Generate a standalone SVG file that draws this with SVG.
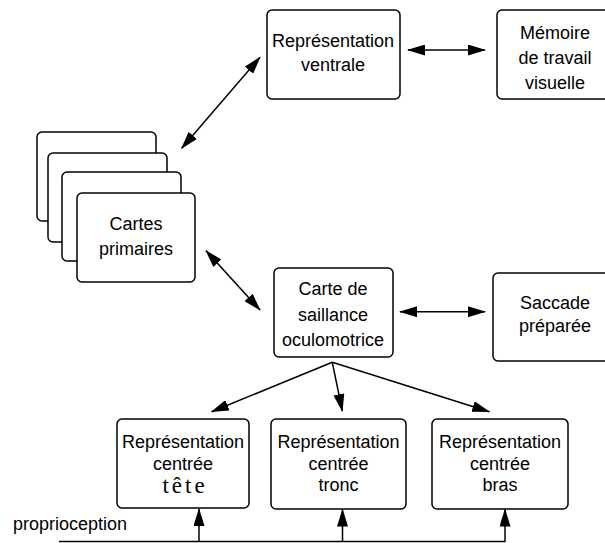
<svg xmlns="http://www.w3.org/2000/svg" width="605" height="543" viewBox="0 0 605 543">
<style>
.box{fill:#fff;stroke:#000;stroke-width:1.5}
.t{font-family:"Liberation Sans",Arial,sans-serif;font-size:18px;fill:#000;text-anchor:middle}
.c{stroke:#000;stroke-width:1.5;fill:none}
</style>
<defs>
<marker id="ah" markerUnits="userSpaceOnUse" markerWidth="18" markerHeight="11" viewBox="0 0 18 11" refX="17" refY="5.5" orient="auto-start-reverse">
<path d="M0,0 L18,5.5 L0,11 z" fill="#000"/>
</marker>
</defs>
<rect width="605" height="543" fill="#fff"/>
<g id="ventrale">
<rect class="box" x="267" y="10" width="133" height="89" rx="5"/>
<text class="t" x="333" y="47">Représentation</text>
<text class="t" x="333" y="71">ventrale</text>
</g>
<g id="memoire">
<rect class="box" x="497" y="10" width="120" height="89" rx="5"/>
<text class="t" x="555" y="39">Mémoire</text>
<text class="t" x="555" y="64">de travail</text>
<text class="t" x="555" y="89">visuelle</text>
</g>
<g id="cartes">
<rect class="box" x="37" y="132" width="119" height="89" rx="5"/>
<rect class="box" x="48" y="153" width="119" height="89" rx="5"/>
<rect class="box" x="62" y="172" width="119" height="89" rx="5"/>
<rect class="box" x="77" y="193" width="118" height="89" rx="5"/>
<text class="t" x="136" y="230">Cartes</text>
<text class="t" x="136" y="255">primaires</text>
</g>
<g id="saillance">
<rect class="box" x="274" y="268" width="119" height="89" rx="5"/>
<text class="t" x="333" y="295">Carte de</text>
<text class="t" x="333" y="321">saillance</text>
<text class="t" x="333" y="346">oculomotrice</text>
</g>
<g id="saccade">
<rect class="box" x="493" y="273" width="124" height="88" rx="5"/>
<text class="t" x="555" y="309">Saccade</text>
<text class="t" x="555" y="332">préparée</text>
</g>
<g id="tete">
<rect class="box" x="117" y="419" width="132" height="89" rx="5"/>
<text class="t" x="183" y="448">Représentation</text>
<text class="t" x="183" y="470">centrée</text>
<text x="185" y="493" font-family="'Liberation Serif','Times New Roman',serif" font-size="23" letter-spacing="3" text-anchor="middle">tête</text>
</g>
<g id="tronc">
<rect class="box" x="271" y="419" width="135" height="90" rx="5"/>
<text class="t" x="338.5" y="448">Représentation</text>
<text class="t" x="338.5" y="470">centrée</text>
<text class="t" x="338.5" y="491">tronc</text>
</g>
<g id="bras">
<rect class="box" x="432" y="419" width="136" height="90" rx="5"/>
<text class="t" x="500" y="448">Représentation</text>
<text class="t" x="500" y="470">centrée</text>
<text class="t" x="500" y="491">bras</text>
</g>
<g id="proprio-label">
<text x="13" y="530" font-family="'Liberation Sans',Arial,sans-serif" font-size="18">proprioception</text>
</g>
<g id="connectors">
<line class="c" x1="181.7" y1="148.3" x2="260" y2="57.3" marker-start="url(#ah)" marker-end="url(#ah)"/>
<line class="c" x1="408" y1="50" x2="485" y2="50" marker-start="url(#ah)" marker-end="url(#ah)"/>
<line class="c" x1="206" y1="250.7" x2="260" y2="310" marker-start="url(#ah)" marker-end="url(#ah)"/>
<line class="c" x1="400" y1="311.7" x2="485" y2="311.7" marker-start="url(#ah)" marker-end="url(#ah)"/>
<line class="c" x1="332.3" y1="362.3" x2="211.7" y2="411.7" marker-end="url(#ah)"/>
<line class="c" x1="332.3" y1="362.3" x2="342.3" y2="411" marker-end="url(#ah)"/>
<line class="c" x1="332.3" y1="362.3" x2="489.3" y2="411.7" marker-end="url(#ah)"/>
<line class="c" x1="59" y1="541.5" x2="505.5" y2="541.5"/>
<line class="c" x1="199" y1="541.5" x2="199" y2="509" marker-end="url(#ah)"/>
<line class="c" x1="342.5" y1="541.5" x2="342.5" y2="509.5" marker-end="url(#ah)"/>
<line class="c" x1="505" y1="541.5" x2="505" y2="509.5" marker-end="url(#ah)"/>
</g>
</svg>
